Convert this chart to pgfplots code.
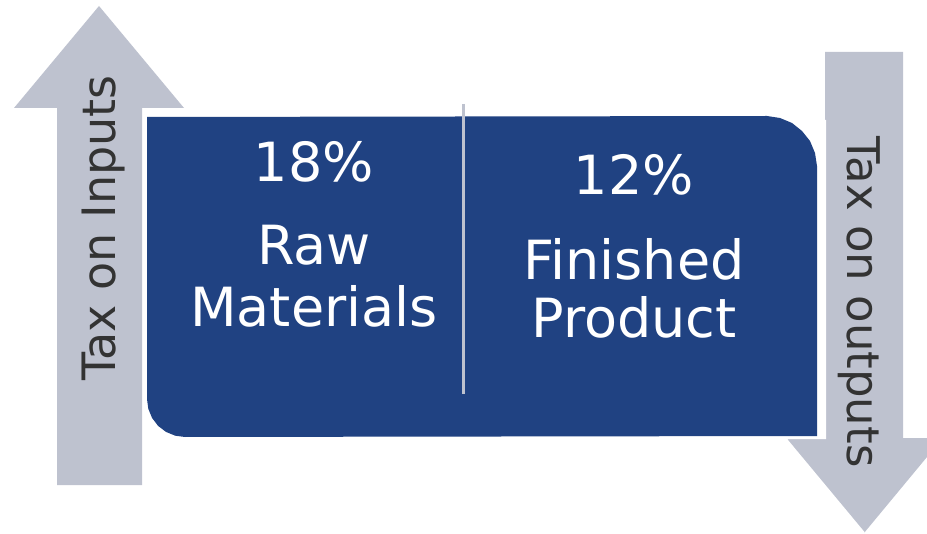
\documentclass[border=0pt]{standalone}
\usepackage{fontspec}
\setmainfont{DejaVu Sans}
\usepackage{pgfplots}
\pgfplotsset{compat=1.18}

\definecolor{boxblue}{HTML}{204282}
\definecolor{arrowgray}{HTML}{BEC2CF}
\definecolor{labeldark}{HTML}{333333}

\begin{document}
\begin{tikzpicture}
\begin{axis}[
  scale only axis,
  width=463.5pt, height=267pt,
  xmin=0, xmax=927, ymin=0, ymax=534,
  y dir=reverse,
  hide axis,
  clip=false,
]
% keep the whole canvas as the bounding box
\path (axis cs:0,0) rectangle (axis cs:927,534);

% up arrow: tax on inputs
\addplot[fill=arrowgray, draw=none] coordinates {
  (57,485) (57,108) (14,108) (99,6) (184,108) (142,108) (142,485)} -- cycle;

% main box
\addplot[fill=boxblue, draw=none] coordinates {
  (147,117) (767,116) (780,118) (792,123) (802,131) (810,141) (815,153) (817,166)
  (817,436) (185,437) (175.2,435.7) (166,431.9) (158.1,425.9) (152.1,418) (148.3,408.8) (147,399)} -- cycle;

% divider
\addplot[draw=arrowgray, line width=1.5pt] coordinates {(463,104) (463,394)};

% down arrow: tax on outputs
\addplot[fill=arrowgray, draw=none] coordinates {
  (825,52) (903,52) (903,438) (927,438) (927,457) (864,533) (785,438) (825,438)} -- cycle;
\addplot[draw=white, line width=1pt] coordinates {(825,120) (825,438) (785,438) (864,533)};

\node[rotate=90, anchor=base, text=labeldark, font=\fontsize{23}{27}\selectfont]
  at (axis cs:115,228) {Tax on Inputs};
\node[rotate=-90, anchor=base, text=labeldark, font=\fontsize{22.5}{27}\selectfont]
  at (axis cs:847,302) {Tax on outputs};

\node[anchor=base, text=white, font=\fontsize{27}{31}\selectfont] at (axis cs:314,182) {18\%};
\node[anchor=base, text=white, font=\fontsize{27}{31}\selectfont] at (axis cs:314,265) {Raw};
\node[anchor=base, text=white, font=\fontsize{27}{31}\selectfont] at (axis cs:314,327) {Materials};
\node[anchor=base, text=white, font=\fontsize{27}{31}\selectfont] at (axis cs:634,195) {12\%};
\node[anchor=base, text=white, font=\fontsize{27}{31}\selectfont] at (axis cs:634,280) {Finished};
\node[anchor=base, text=white, font=\fontsize{27}{31}\selectfont] at (axis cs:634,338) {Product};
\end{axis}
\end{tikzpicture}
\end{document}
